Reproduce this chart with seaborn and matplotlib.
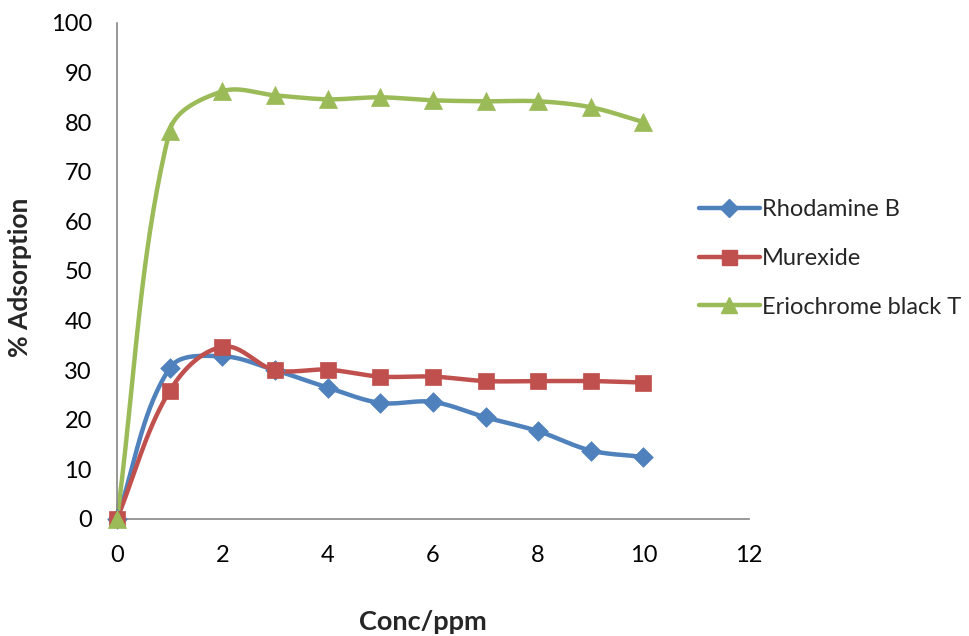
import numpy as np
import pandas as pd
import matplotlib
matplotlib.use("Agg")
import matplotlib.pyplot as plt
from matplotlib.lines import Line2D
import seaborn as sns

conc = [0, 1, 2, 3, 4, 5, 6, 7, 8, 9, 10]
rhodamine = [0, 30.4, 32.8, 30.0, 26.5, 23.4, 23.6, 20.5, 17.7, 13.8, 12.5]
murexide = [0, 25.8, 34.7, 30.0, 30.1, 28.7, 28.7, 27.8, 27.8, 27.8, 27.5]
eriochrome = [0, 78.2, 86.2, 85.4, 84.6, 85.0, 84.4, 84.2, 84.2, 83.0, 80.0]
series_names = ["Rhodamine B", "Murexide", "Eriochrome black T"]
colors = ["#4F81BD", "#C0504D", "#9BBB59"]
markers = ["D", "s", "^"]
msizes = [10, 12, 13]

sns.set_style("white")
plt.rcParams['font.family'] = ['Lato', 'DejaVu Sans']

# pixel scale of the plot area (x units -> px, y units -> px), used for curve smoothing
SX, SY = 632 / 12.0, 496 / 100.0


def smooth(x, y, n=40, tension=1 / 3):
    P = np.column_stack([np.asarray(x, float) * SX, np.asarray(y, float) * SY])
    m = len(P)
    T = np.zeros_like(P)
    for i in range(m):
        a = P[max(i - 1, 0)]; b = P[min(i + 1, m - 1)]
        d = b - a
        T[i] = d / np.linalg.norm(d)
    out = []
    for i in range(m - 1):
        d = np.linalg.norm(P[i + 1] - P[i])
        c1 = P[i] + T[i] * d * tension
        c2 = P[i + 1] - T[i + 1] * d * tension
        t = np.linspace(0, 1, n)[:, None]
        seg = (1 - t) ** 3 * P[i] + 3 * (1 - t) ** 2 * t * c1 + 3 * (1 - t) * t ** 2 * c2 + t ** 3 * P[i + 1]
        out.append(seg if i == 0 else seg[1:])
    out = np.vstack(out)
    return out[:, 0] / SX, out[:, 1] / SY


fig = plt.figure(figsize=(9.69, 6.36), dpi=100)
ax = fig.add_axes([0.1207, 0.184, 0.652, 0.780])

handles = []
for name, vals, c, m, ms in zip(series_names, [rhodamine, murexide, eriochrome], colors, markers, msizes):
    sx, sy = smooth(conc, vals)
    ax.plot(sx, sy, color=c, lw=3.2, clip_on=False, solid_capstyle='round', zorder=2)
    df = pd.DataFrame({"x": conc, "y": vals})
    sns.scatterplot(data=df, x="x", y="y", ax=ax, color=c, marker=m, s=ms ** 2,
                    edgecolor=c, linewidth=0.5, clip_on=False, zorder=3, legend=False)
    handles.append(Line2D([0], [0], color=c, lw=3.2, marker=m, markersize=ms * 0.9,
                          markeredgecolor=c, label=name, solid_capstyle='round'))

ax.set_xlim(0, 12)
ax.set_ylim(0, 100)
ax.set_xticks(range(0, 13, 2))
ax.set_yticks(range(0, 101, 10))
for s in ["top", "right"]:
    ax.spines[s].set_visible(False)
for s in ["left", "bottom"]:
    ax.spines[s].set_color("#868686")
    ax.spines[s].set_linewidth(1.2)
ax.tick_params(axis="both", direction="out", length=6, width=1.2, color="#868686",
               labelsize=17, labelcolor="black")
ax.tick_params(axis="y", pad=12)
ax.tick_params(axis="x", pad=13)
ax.set_xlabel("Conc/ppm", fontsize=19.5, fontweight="bold", va="center", ha="center")
ax.set_ylabel("% Adsorption", fontsize=19, fontweight="bold", va="center", ha="center")
ax.xaxis.set_label_coords(0.484, -0.2077)
ax.yaxis.set_label_coords(-0.1535, 0.488)

fig.legend(handles=handles, loc="upper left", bbox_to_anchor=(0.7112, 0.702),
           frameon=False, fontsize=17, handlelength=2.6, handletextpad=0.1,
           labelspacing=1.18, borderaxespad=0)

fig.savefig("out.png", dpi=100)
